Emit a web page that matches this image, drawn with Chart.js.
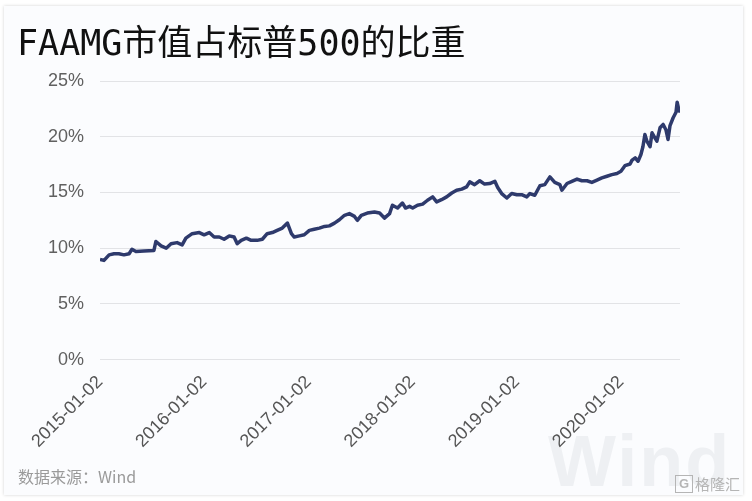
<!DOCTYPE html>
<html>
<head>
<meta charset="utf-8">
<script src="https://cdn.jsdelivr.net/npm/chart.js@4.4.0/dist/chart.umd.min.js"></script>
<style>
  html, body { margin: 0; padding: 0; background: #ffffff; }
  #card {
    position: absolute; left: 4px; top: 6px; width: 739px; height: 489px;
    background: #fbfcfe; box-shadow: 0 0 3px rgba(0,0,0,0.18);
    overflow: hidden;
  }
  #wm {
    position: absolute; left: 544px; top: 414px;
    font: bold 72px "Liberation Sans", Arial, sans-serif; color: #eef0f3;
    letter-spacing: 2px;
  }
  #chartBox { position: absolute; left: 0; top: 0; width: 739px; height: 489px; }
  #source {
    position: absolute; left: 14px; top: 458px;
    font: 16px "Noto Sans CJK SC", sans-serif; color: #9a9a9a;
  }
  #logo {
    position: absolute; left: 671px; top: 467px;
    font: 15px "Noto Sans CJK SC", sans-serif; color: #b5b5b5;
    display: flex; align-items: center; gap: 2px;
  }
  #logo span.g {
    display: inline-block; width: 16px; height: 16px; line-height: 16px;
    border: 1px solid #b5b5b5; text-align: center; font: bold 13px "Liberation Sans", sans-serif;
  }
</style>
</head>
<body>
<div id="card">
  <div id="wm">Wind</div>
  <div id="chartBox"><canvas id="chart"></canvas></div>
  <div id="source">数据来源：Wind</div>
  <div id="logo"><span class="g">G</span>格隆汇</div>
</div>
<script>
// Data (percent of S&P 500 market cap)
const dates = [
  '2015-01-02','2015-01-16','2015-02-03','2015-02-20','2015-03-09','2015-03-27','2015-04-14','2015-04-24',
  '2015-05-08','2015-06-05','2015-07-10','2015-07-17','2015-08-04','2015-08-22','2015-09-08','2015-09-29',
  '2015-10-17','2015-10-30','2015-11-21','2015-12-16','2016-01-02','2016-01-20','2016-02-06','2016-02-24',
  '2016-03-12','2016-03-30','2016-04-16','2016-04-27','2016-05-11','2016-05-29','2016-06-15','2016-07-06',
  '2016-07-24','2016-08-10','2016-08-28','2016-09-14','2016-10-02','2016-10-20','2016-11-03','2016-11-13',
  '2016-12-01','2016-12-18','2017-01-05','2017-01-22','2017-02-09','2017-02-27','2017-03-16','2017-04-03',
  '2017-04-20','2017-05-08','2017-05-25','2017-06-12','2017-06-22','2017-07-06','2017-07-27','2017-08-21',
  '2017-09-08','2017-09-25','2017-10-13','2017-10-23','2017-11-10','2017-11-27','2017-12-08','2017-12-22',
  '2018-01-02','2018-01-19','2018-02-06','2018-02-23','2018-03-13','2018-03-27','2018-04-13','2018-05-01',
  '2018-05-19','2018-06-05','2018-06-23','2018-07-10','2018-07-21','2018-08-07','2018-08-25','2018-09-11',
  '2018-09-29','2018-10-17','2018-10-27','2018-11-10','2018-11-28','2018-12-15','2019-01-02','2019-01-19',
  '2019-02-06','2019-02-17','2019-03-06','2019-03-24','2019-04-10','2019-04-28','2019-05-15','2019-06-02',
  '2019-06-09','2019-06-27','2019-07-14','2019-08-01','2019-08-18','2019-09-05','2019-09-22','2019-10-10',
  '2019-10-27','2019-11-14','2019-12-01','2019-12-19','2020-01-02','2020-01-16','2020-02-03','2020-02-10',
  '2020-02-21','2020-03-02','2020-03-12','2020-03-19','2020-03-26','2020-04-02','2020-04-13','2020-04-20',
  '2020-04-30','2020-05-07','2020-05-18','2020-05-29','2020-06-08','2020-06-15','2020-06-22','2020-07-03',
  '2020-07-13','2020-07-17','2020-07-24','2020-07-27'
];
const share = [
  9.0, 8.9, 9.4, 9.5, 9.5, 9.4, 9.5, 9.9,
  9.7, 9.75, 9.8, 10.6, 10.2, 10.0, 10.4, 10.5,
  10.3, 10.9, 11.3, 11.4, 11.2, 11.4, 11.0, 11.0,
  10.8, 11.1, 11.0, 10.4, 10.7, 10.9, 10.7, 10.7,
  10.8, 11.3, 11.4, 11.6, 11.8, 12.25, 11.3, 11.0,
  11.1, 11.2, 11.6, 11.7, 11.8, 11.95, 12.0, 12.25,
  12.55, 12.95, 13.1, 12.85, 12.5, 12.95, 13.15, 13.25,
  13.15, 12.7, 13.1, 13.85, 13.6, 14.05, 13.6, 13.75,
  13.6, 13.85, 13.95, 14.3, 14.6, 14.15, 14.35, 14.6,
  14.95, 15.2, 15.3, 15.5, 15.95, 15.7, 16.05, 15.75,
  15.8, 16.0, 15.45, 14.9, 14.5, 14.9, 14.8, 14.8,
  14.6, 14.9, 14.75, 15.6, 15.7, 16.4, 15.9, 15.7,
  15.2, 15.8, 16.0, 16.2, 16.05, 16.05, 15.9, 16.1,
  16.3, 16.45, 16.6, 16.7, 16.9, 17.4, 17.55, 17.9,
  18.1, 17.8, 18.4, 19.1, 20.2, 19.6, 19.1, 20.35,
  19.9, 19.6, 20.8, 21.1, 20.6, 19.75, 21.0, 21.7,
  22.2, 23.1, 22.3, 22.5
];
const yearTicks = ['2015-01-02','2016-01-02','2017-01-02','2018-01-02','2019-01-02','2020-01-02'];
const yTicks = [0, 5, 10, 15, 20, 25];

const t0 = Date.parse(dates[0]);
const dayOf = s => Math.round((Date.parse(s) - t0) / 86400000);

const ctx = document.getElementById('chart').getContext('2d');
const chart = new Chart(ctx, {
  type: 'line',
  data: {
    datasets: [{
      label: 'FAAMG',
      data: dates.map((d, i) => ({ x: dayOf(d), y: share[i] })),
      borderColor: '#2e3a6c',
      borderWidth: 3.5,
      borderJoinStyle: 'round',
      pointRadius: 0,
      tension: 0,
      fill: false
    }]
  },
  options: {
    responsive: true,
    maintainAspectRatio: false,
    animation: false,
    layout: { padding: { left: 13, right: 63, top: 19, bottom: 39 } },
    plugins: {
      legend: { display: false },
      tooltip: { enabled: false },
      title: {
        display: true,
        text: 'FAAMG市值占标普500的比重',
        align: 'start',
        color: '#111111',
        font: { family: '"DejaVu Sans Mono", "Noto Sans CJK SC", monospace', size: 35, weight: 'normal' },
        padding: { top: 0, bottom: 14 }
      }
    },
    scales: {
      x: {
        type: 'linear',
        min: 0,
        max: dayOf(dates[dates.length - 1]),
        afterBuildTicks: axis => { axis.ticks = yearTicks.map(s => ({ value: dayOf(s) })); },
        grid: { display: false },
        border: { display: false },
        ticks: {
          autoSkip: false,
          minRotation: 45,
          maxRotation: 45,
          padding: 4,
          color: '#555555',
          font: { family: '"Liberation Sans", Arial, sans-serif', size: 18 },
          callback: v => yearTicks.find(s => dayOf(s) === v) || ''
        }
      },
      y: {
        min: 0,
        max: 25,
        afterBuildTicks: axis => { axis.ticks = yTicks.map(v => ({ value: v })); },
        afterFit: axis => { axis.width = 83; },
        grid: { color: '#e2e3e6', drawTicks: false },
        border: { display: false },
        ticks: {
          padding: 16,
          color: '#606060',
          font: { family: '"Liberation Sans", Arial, sans-serif', size: 18 },
          callback: v => v + '%'
        }
      }
    }
  }
});
</script>
</body>
</html>
